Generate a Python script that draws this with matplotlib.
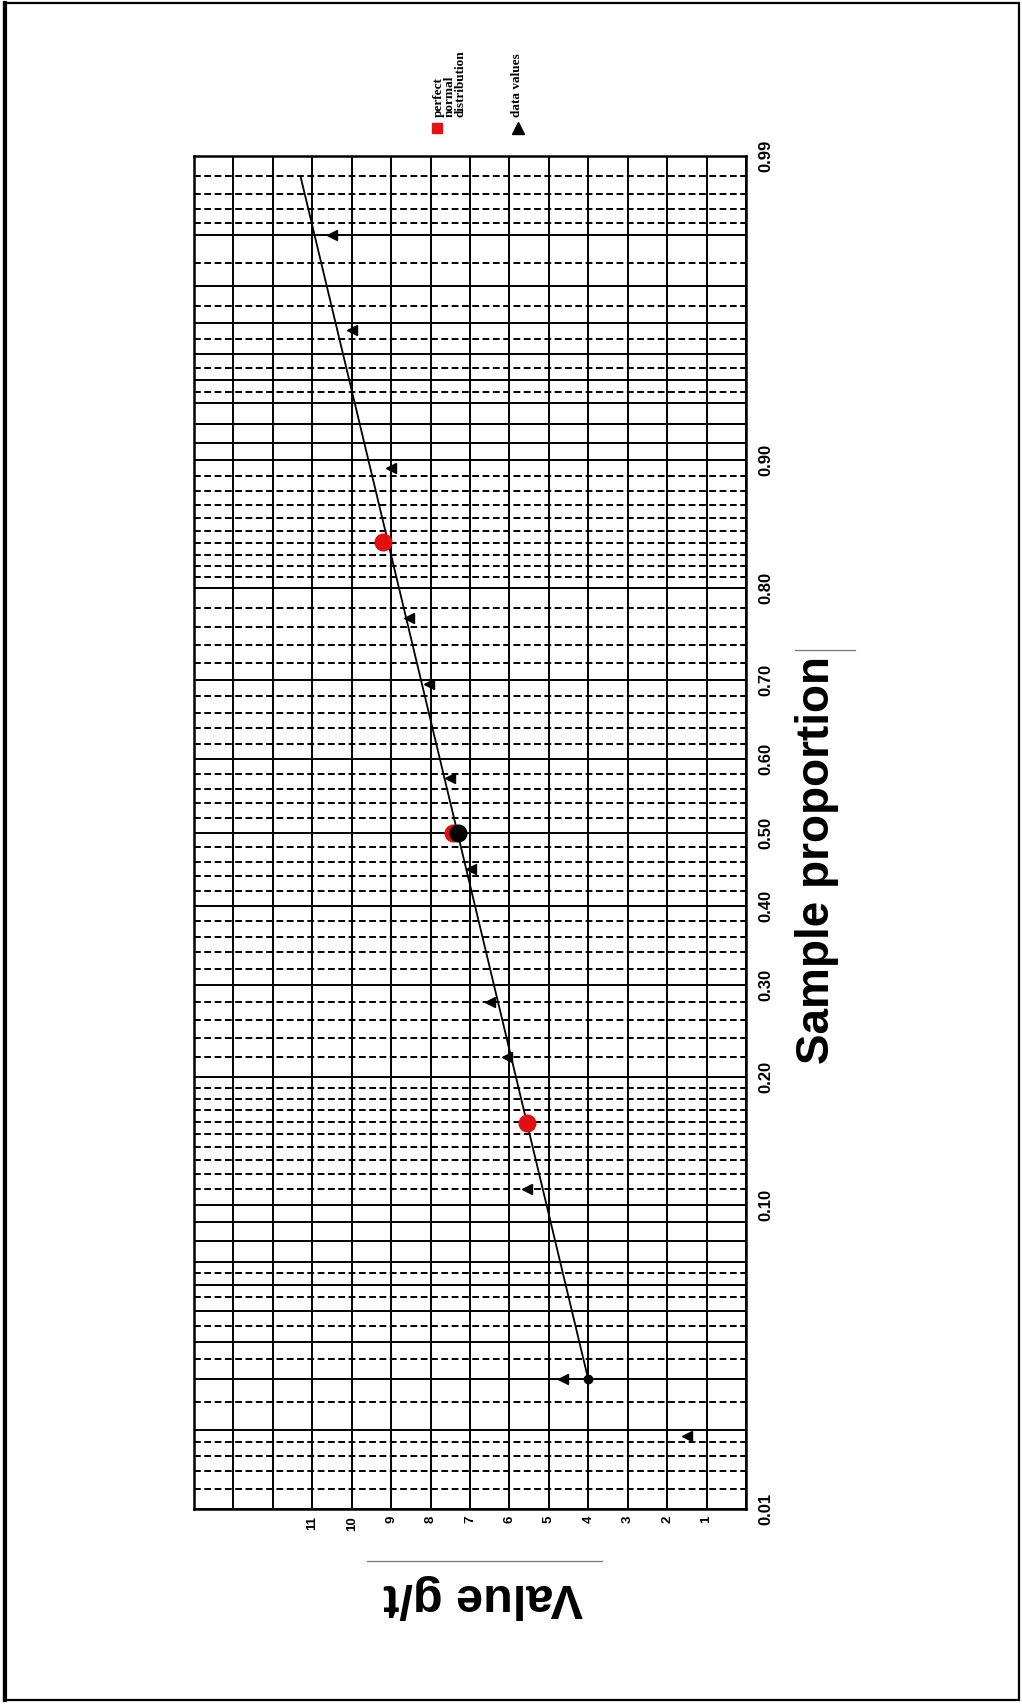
import numpy as np
import matplotlib
matplotlib.use("Agg")
import matplotlib.pyplot as plt
from matplotlib.patches import Rectangle
from matplotlib.lines import Line2D
from matplotlib.ticker import NullFormatter
from statistics import NormalDist

# data values (value g/t, sample proportion)
data_values = [1.5, 4.65, 5.55, 6.05, 6.5, 6.98, 7.5, 8.05, 8.55, 9.0, 10.0, 10.5]
data_props = [0.019, 0.03, 0.11, 0.22, 0.28, 0.45, 0.575, 0.695, 0.77, 0.895, 0.958, 0.98]

# perfect normal distribution points (mean - sd, mean, mean + sd)
normal_values = [5.56, 7.42, 9.2]
normal_props = [0.1587, 0.5, 0.8413]

# hand drawn line and the dots on it
fit_values = [4.0, 11.3]
fit_props = [0.03, 0.988]
mean_value = [7.3]
mean_prop = [0.5]
end_value = [4.0]
end_prop = [0.03]

# value axis: a solid line on every unit, labels 1..11
value_ticks = list(range(0, 15))
value_labels = [str(v) if 1 <= v <= 11 else "" for v in value_ticks]

# probability paper rulings
prop_major = ([round(0.01 * i, 2) for i in range(1, 11)]
              + [0.2, 0.3, 0.4, 0.5, 0.6, 0.7, 0.8]
              + [round(0.9 + 0.01 * i, 2) for i in range(0, 10)])
prop_minor = ([0.012, 0.014, 0.016, 0.018, 0.025, 0.035, 0.045, 0.055, 0.065]
              + [round(0.11 + 0.01 * i, 2) for i in range(9)]
              + [0.22, 0.24, 0.26, 0.28, 0.32, 0.34, 0.36, 0.38,
                 0.42, 0.44, 0.46, 0.48, 0.52, 0.54, 0.56, 0.58,
                 0.62, 0.64, 0.66, 0.68, 0.72, 0.74, 0.76, 0.78]
              + [round(0.81 + 0.01 * i, 2) for i in range(9)]
              + [0.935, 0.945, 0.955, 0.965, 0.975, 0.982, 0.984, 0.986, 0.988])
prop_labelled = [0.01, 0.1, 0.2, 0.3, 0.4, 0.5, 0.6, 0.7, 0.8, 0.9, 0.99]

W, H = 1022, 1704
_nd = NormalDist()


def ppf(p):
    p = np.asarray(p, dtype=float)
    out = np.full(p.shape, np.nan)
    ok = np.isfinite(p)
    pc = np.clip(p[ok], 1e-9, 1 - 1e-9)
    out[ok] = [_nd.inv_cdf(v) for v in pc]
    return out


def cdf(z):
    z = np.asarray(z, dtype=float)
    out = np.full(z.shape, np.nan)
    ok = np.isfinite(z)
    out[ok] = [_nd.cdf(v) for v in z[ok]]
    return out


def fx(px):
    return px / W


def fy(py):
    return 1 - py / H


fig = plt.figure(figsize=(W / 100, H / 100), dpi=100)
ax = fig.add_axes([fx(194), fy(1509), (746 - 194) / W, (1509 - 156) / H])

ax.set_yscale("function", functions=(ppf, cdf))
ax.set_ylim(0.01, 0.99)
ax.set_xlim(14, 0)

# grid of the probability paper
ax.set_xticks(value_ticks)
ax.set_xticklabels(value_labels, rotation=90, fontsize=9.5, fontweight="bold",
                   family="Liberation Sans")
ax.set_yticks(prop_major)
ax.set_yticks(prop_minor, minor=True)
ax.set_yticklabels(["%.2f" % p if any(abs(p - q) < 1e-9 for q in prop_labelled) else ""
                    for p in prop_major],
                   rotation=90, va="center", fontsize=12, fontweight="bold",
                   family="Liberation Sans")
ax.yaxis.set_minor_formatter(NullFormatter())
ax.tick_params(which="both", length=0)
ax.tick_params(axis="y", left=False, labelleft=False, labelright=True, pad=9)
ax.tick_params(axis="x", pad=5)

ax.grid(True, which="major", axis="both", color="black", lw=1.4, ls="-")
ax.grid(True, which="minor", axis="y", color="black", lw=1.4, ls=(0, (3.5, 1.8)))
for s in ax.spines.values():
    s.set_linewidth(1.8)

# fitted line and points
ax.plot(fit_values, fit_props, color="black", lw=1.3, zorder=3)
ax.plot(normal_values, normal_props, "o", color="#e01010", ms=12, zorder=4)
ax.plot(mean_value, mean_prop, "o", color="black", ms=12, zorder=5)
ax.plot(end_value, end_prop, "o", color="black", ms=6, zorder=5)
ax.plot(data_values, data_props, "<", color="black", ms=7, zorder=6)

# legend, drawn the way it is printed on the sheet
fig.add_artist(Line2D([fx(437)], [fy(128)], marker="s", color="#e81010", ms=7, ls=""))
fig.add_artist(Line2D([fx(518)], [fy(128)], marker="^", color="black", ms=8, ls=""))
fig.text(fx(433), fy(117), "perfect\nnormal\ndistribution", rotation=90,
         ha="left", va="bottom", multialignment="left", fontsize=9.5,
         fontweight="bold", family="Liberation Serif", linespacing=0.85)
fig.text(fx(511), fy(117), "data values", rotation=90, ha="left", va="bottom",
         fontsize=9.5, fontweight="bold", family="Liberation Serif")

# axis titles
fig.text(fx(817), fy(860), "Sample proportion", rotation=90, ha="center",
         va="center", fontsize=33, fontweight="bold", family="Liberation Sans")
fig.text(fx(483), fy(1596), "Value g/t", rotation=180, ha="center",
         va="center", fontsize=35, fontweight="bold", family="Liberation Sans")

# thin marks left over on the scanned sheet
fig.add_artist(Line2D([fx(367), fx(602)], [fy(1561), fy(1561)], color="#777777", lw=0.9))
fig.add_artist(Line2D([fx(795), fx(855)], [fy(650), fy(650)], color="#777777", lw=0.9))

# page edge
fig.add_artist(Rectangle((fx(4), fy(1700)), (1019 - 4) / W, (1700 - 3) / H,
                         transform=fig.transFigure, fill=False, ec="black", lw=1.6))
fig.add_artist(Line2D([fx(5), fx(5)], [fy(3), fy(1700)], color="black", lw=3))

fig.savefig("out.png", dpi=100)
